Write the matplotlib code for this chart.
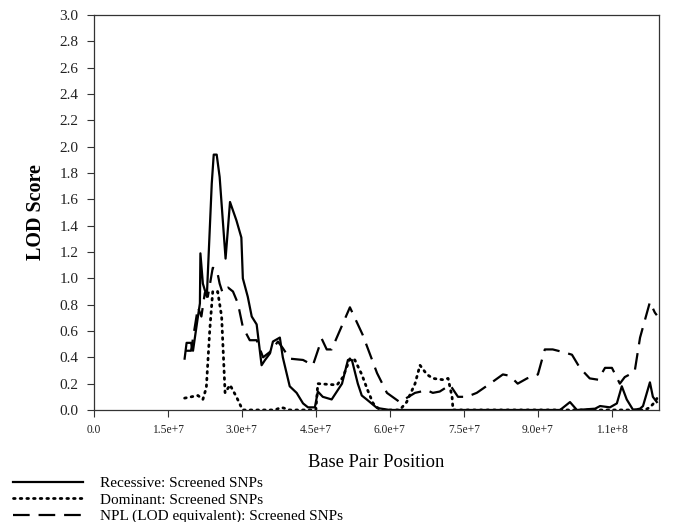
import numpy as np
import matplotlib
matplotlib.use('Agg')
from matplotlib import pyplot as plt

# positions in Mb, LOD scores
rec_pos = [18.4, 18.8, 19.7, 20.1, 21.1, 21.5, 21.6, 22.1, 22.9, 23.9, 24.3, 24.9, 25.5,
           26.7, 27.6, 28.9, 29.9, 30.2, 31.2, 32.0, 33.0, 34.0, 34.7, 35.7, 36.3, 37.7,
           38.3, 39.7, 41.1, 42.4, 43.4, 43.8, 44.8, 45.4, 46.4, 48.2, 50.3, 51.5, 52.3,
           53.5, 54.3, 55.3, 57.4, 60.0, 94.5, 96.5, 97.9, 101.6, 102.6, 104.6, 106.0,
           107.0, 108.0, 109.3, 110.7, 111.3, 112.7, 113.3, 114.1]
rec_lod = [0.39, 0.51, 0.51, 0.45, 0.71, 0.81, 1.19, 0.96, 0.86, 1.72, 1.94, 1.94, 1.77,
           1.15, 1.58, 1.44, 1.31, 1.00, 0.86, 0.71, 0.65, 0.34, 0.38, 0.43, 0.52, 0.55,
           0.40, 0.18, 0.13, 0.05, 0.02, 0.02, 0.02, 0.14, 0.10, 0.08, 0.20, 0.38, 0.38,
           0.20, 0.11, 0.08, 0.015, 0.0, 0.0, 0.06, 0.0, 0.01, 0.03, 0.02, 0.05,
           0.18, 0.08, 0.0, 0.01, 0.03, 0.21, 0.10, 0.06]

dom_pos = [18.4, 21.1, 22.1, 22.8, 23.5, 24.1, 25.1, 25.9, 26.6, 27.6, 28.9, 29.9, 30.2,
           36.7, 38.0, 39.7, 43.8, 45.0, 45.4, 49.3, 50.5, 51.9, 52.9, 54.3, 55.5, 56.6,
           58.0, 62.0, 63.4, 65.1, 66.1, 67.5, 68.7, 70.7, 71.8, 72.6, 72.8, 111.7,
           112.7, 113.7, 114.3]
dom_lod = [0.09, 0.11, 0.08, 0.17, 0.61, 0.90, 0.90, 0.71, 0.13, 0.19, 0.10, 0.02, 0.0,
           0.0, 0.02, 0.0, 0.0, 0.0, 0.20, 0.19, 0.25, 0.39, 0.38, 0.27, 0.15, 0.05,
           0.0, 0.0, 0.06, 0.20, 0.34, 0.27, 0.24, 0.23, 0.24, 0.10, 0.0, 0.0,
           0.02, 0.06, 0.10]

npl_pos = [18.6, 19.7, 21.1, 21.8, 22.5, 23.1, 24.1, 24.9, 25.5, 26.1, 27.2, 28.2, 29.2,
           30.2, 31.6, 33.0, 34.3, 36.0, 37.3, 38.3, 39.7, 42.4, 44.4, 46.2, 47.2, 48.2,
           51.9, 54.5, 57.4, 59.4, 62.0, 65.1, 67.5, 68.7, 70.1, 72.2, 73.8, 75.6, 77.6,
           80.3, 82.9, 84.3, 85.9, 87.8, 90.0, 91.4, 93.0, 95.1, 96.9, 98.5, 100.5,
           102.2, 103.6, 105.0, 106.6, 107.6, 109.6, 110.7, 112.7, 113.7, 114.1]
npl_lod = [0.45, 0.45, 0.78, 0.71, 0.89, 0.86, 1.08, 1.07, 0.96, 0.89, 0.93, 0.90, 0.81,
           0.63, 0.53, 0.53, 0.40, 0.45, 0.52, 0.47, 0.39, 0.38, 0.34, 0.54, 0.46, 0.46,
           0.78, 0.57, 0.28, 0.13, 0.06, 0.13, 0.15, 0.13, 0.14, 0.19, 0.10, 0.10, 0.13,
           0.20, 0.27, 0.26, 0.20, 0.24, 0.27, 0.46, 0.46, 0.44, 0.42, 0.32, 0.24,
           0.23, 0.32, 0.32, 0.20, 0.25, 0.29, 0.55, 0.82, 0.74, 0.72]

xticks = [0, 1.5e7, 3.0e7, 4.5e7, 6.0e7, 7.5e7, 9.0e7, 1.05e8]
xtick_labels = ['0.0', '1.5e+7', '3.0e+7', '4.5e+7', '6.0e+7', '7.5e+7', '9.0e+7', '1.1e+8']
yticks = np.arange(0, 3.01, 0.2)

plt.rcParams['font.family'] = ['Liberation Serif', 'DejaVu Serif']

fig = plt.figure(figsize=(6.75, 5.22), dpi=100)
ax = fig.add_axes([0.139, 0.2146, 0.837, 0.7565])

l1, = ax.plot(np.array(rec_pos) * 1e6, rec_lod, color='black', lw=1.6, ls='-')
l2, = ax.plot(np.array(dom_pos) * 1e6, dom_lod, color='black', lw=2.0, ls=(0, (0.6, 1.8)),
              dash_capstyle='round')
l3, = ax.plot(np.array(npl_pos) * 1e6, npl_lod, color='black', lw=1.6, ls=(0, (7.5, 4)))

ax.set_xlim(0, 1.145e8)
ax.set_ylim(0, 3.0)
ax.set_xticks(xticks)
ax.set_xticklabels(xtick_labels, fontsize=8.3)
ax.set_yticks(yticks)
ax.set_yticklabels(['%.1f' % v for v in yticks], fontsize=11)
ax.tick_params(direction='out', length=5, width=0.8, colors='#333333')
ax.tick_params(axis='x', pad=5, labelcolor='#222222')
ax.tick_params(axis='y', pad=6, labelcolor='#222222')
for s in ax.spines.values():
    s.set_color('#333333')
    s.set_linewidth(0.9)

ax.set_ylabel('LOD Score', fontsize=14.5, fontweight='bold', labelpad=10)
ax.set_xlabel('Base Pair Position', fontsize=13.3, labelpad=13)

fig.legend([l1, l2, l3],
           ['Recessive: Screened SNPs', 'Dominant: Screened SNPs',
            'NPL (LOD equivalent): Screened SNPs'],
           loc='upper left', bbox_to_anchor=(0.019, 0.087), frameon=False,
           fontsize=11, handlelength=4.6, handletextpad=1.1, labelspacing=0.18,
           borderaxespad=0.0, borderpad=0.0)

fig.savefig('out.png', dpi=100)
